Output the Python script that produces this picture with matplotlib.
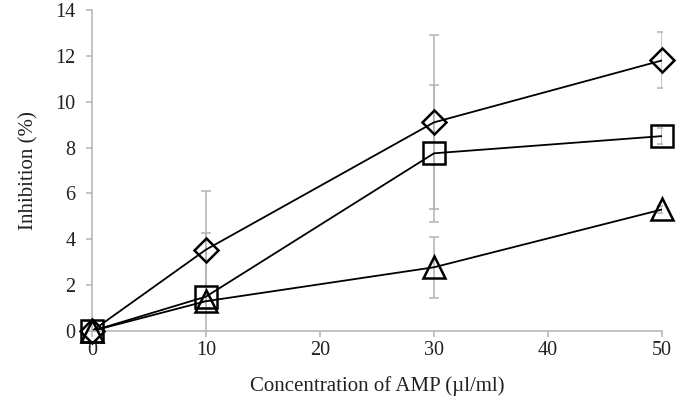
import matplotlib
matplotlib.use("Agg")
import matplotlib.pyplot as plt

# ── Data ─────────────────────────────────────────────────────────────────────
conc = [0, 10, 30, 50]

diamond = [0.0, 3.55, 9.1, 11.8]
diamond_err = [0.0, 2.55, 3.8, 1.22]

square = [0.0, 1.5, 7.75, 8.5]
square_err = [0.0, 2.76, 3.0, 0.35]

triangle = [0.0, 1.3, 2.78, 5.3]
triangle_err = [0.0, 0.0, 1.33, 0.15]

x_ticks = [0, 10, 20, 30, 40, 50]
y_ticks = [0, 2, 4, 6, 8, 10, 12, 14]
# ─────────────────────────────────────────────────────────────────────────────

plt.rcParams['font.family'] = ['Liberation Serif', 'DejaVu Serif']

fig = plt.figure(figsize=(6.79, 3.98), dpi=100)
ax = fig.add_axes([0.1355, 0.1683, 0.8395, 0.8066])

grey = '#b3b3b3'
txt = '#222222'
series = [
    (diamond, diamond_err, 'D', 12),
    (square, square_err, 's', 16),
    (triangle, triangle_err, '^', 16),
]

for vals, err, mk, ms in series:
    ax.errorbar(conc, vals, yerr=err, fmt='none', ecolor=grey,
                elinewidth=1.1, capsize=3.5, capthick=1.1, zorder=1)
    ax.plot(conc, vals, color='black', linewidth=1.3, zorder=2)
    ax.plot(conc, vals, linestyle='none', marker=mk, markersize=ms,
            markerfacecolor='none', markeredgecolor='black',
            markeredgewidth=1.8, zorder=3, clip_on=False)

ax.set_xlim(0, 50)
ax.set_ylim(0, 14)
ax.set_xticks(x_ticks)
ax.set_yticks(y_ticks)

for side in ['top', 'right']:
    ax.spines[side].set_visible(False)
for side in ['left', 'bottom']:
    ax.spines[side].set_color(grey)
    ax.spines[side].set_linewidth(1.1)

ax.tick_params(axis='both', direction='out', length=4, width=1.1,
               color=grey, labelsize=14.5, labelcolor=txt)
ax.tick_params(axis='x', pad=3)
ax.tick_params(axis='y', pad=8)

ax.set_xlabel('Concentration of AMP (µl/ml)', fontsize=15, color=txt,
              labelpad=12)
ax.set_ylabel('Inhibition (%)', fontsize=15, color=txt, labelpad=12)

fig.savefig('out.png', dpi=100)
